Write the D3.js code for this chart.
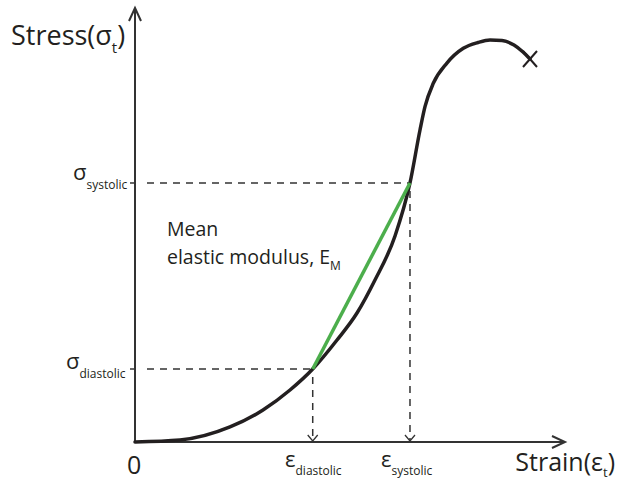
<!DOCTYPE html>
<html>
<head>
<meta charset="utf-8">
<script src="https://cdn.jsdelivr.net/npm/d3@7"></script>
<style>
  body { margin: 0; background: #fff; }
  text { font-family: "Open Sans", sans-serif; fill: #231f20; }
</style>
</head>
<body>
<svg id="chart" width="619" height="482"></svg>
<script>
// stress-strain curve (axis units 0..100)
var strain = [0, 10.47, 22.09, 29.77, 36.05, 41.33, 46.98, 51.63, 55.81, 60.47, 63.95, 66.28, 67.44, 69.37, 72.49, 76.35, 79.77, 82.56, 85.35, 88.14, 90.23, 91.86];
var stress = [0, 0.46, 3.46, 7.37, 11.98, 16.82, 23.50, 29.72, 37.33, 47.47, 59.68, 71.89, 77.26, 82.65, 87.26, 90.71, 92.05, 92.63, 92.51, 91.47, 89.86, 88.25];

// the two marked points (diastolic, systolic)
var markNames = ["diastolic", "systolic"];
var markStrain = [41.33, 63.95];
var markStress = [16.82, 59.68];

var svg = d3.select('#chart');

var x = d3.scaleLinear().domain([0, 100]).range([135, 565]);
var y = d3.scaleLinear().domain([0, 100]).range([442, 8]);

var ink = '#231f20';
var axisCol = '#333';

// axes with open arrow heads
svg.append('line')
    .attr('x1', x(0)).attr('y1', y(0)).attr('x2', x(100)).attr('y2', y(0))
    .attr('stroke', axisCol).attr('stroke-width', 2);
svg.append('line')
    .attr('x1', x(0)).attr('y1', y(0)).attr('x2', x(0)).attr('y2', y(100))
    .attr('stroke', axisCol).attr('stroke-width', 2);

function arrowHead(px, py, dir, len, half, w) {
    var pts;
    if (dir == 'right') pts = [[px - len, py - half], [px, py], [px - len, py + half]];
    if (dir == 'up') pts = [[px - half, py + len], [px, py], [px + half, py + len]];
    if (dir == 'down') pts = [[px - half, py - len], [px, py], [px + half, py - len]];
    svg.append('path')
        .attr('d', d3.line()(pts))
        .attr('fill', 'none').attr('stroke', axisCol).attr('stroke-width', w);
}
arrowHead(x(100), y(0), 'right', 13, 6, 2);
arrowHead(x(0), y(100), 'up', 13, 6, 2);

// dashed guides
markNames.forEach(function(name, i) {
    svg.append('line')
        .attr('x1', x(0) - 5).attr('y1', y(markStress[i]))
        .attr('x2', x(0)).attr('y2', y(markStress[i]))
        .attr('stroke', axisCol).attr('stroke-width', 1.5);
    svg.append('line')
        .attr('x1', x(0) + 12).attr('y1', y(markStress[i]))
        .attr('x2', x(markStrain[i])).attr('y2', y(markStress[i]))
        .attr('stroke', axisCol).attr('stroke-width', 1.5)
        .attr('stroke-dasharray', '7,6');
    svg.append('line')
        .attr('x1', x(markStrain[i])).attr('y1', y(markStress[i]) + 8)
        .attr('x2', x(markStrain[i])).attr('y2', y(0) - 1)
        .attr('stroke', axisCol).attr('stroke-width', 1.5)
        .attr('stroke-dasharray', '7,6');
    arrowHead(x(markStrain[i]), y(0) - 1, 'down', 6, 5, 1.3);
});

// the curve
var curveData = strain.map(function(d, i) { return [d, stress[i]]; });
var line = d3.line()
    .x(function(d) { return x(d[0]); })
    .y(function(d) { return y(d[1]); })
    .curve(d3.curveMonotoneX);

svg.append('path')
    .datum(curveData)
    .attr('d', line)
    .attr('fill', 'none')
    .attr('stroke', ink)
    .attr('stroke-width', 3.5)
    .attr('stroke-linecap', 'round');

// mean elastic modulus chord
svg.append('line')
    .attr('x1', x(markStrain[0])).attr('y1', y(markStress[0]))
    .attr('x2', x(markStrain[1])).attr('y2', y(markStress[1]))
    .attr('stroke', '#4cae4c').attr('stroke-width', 3.5);

// failure mark
var fx = x(strain[strain.length - 1]), fy = y(stress[stress.length - 1]);
svg.append('path')
    .attr('d', 'M' + (fx - 7) + ',' + (fy - 8) + 'L' + (fx + 7) + ',' + (fy + 8) +
               'M' + (fx + 7) + ',' + (fy - 8) + 'L' + (fx - 7) + ',' + (fy + 8))
    .attr('stroke', ink).attr('stroke-width', 2).attr('fill', 'none');

// Stress axis title
var st = svg.append('text').attr('x', 11).attr('y', 45).attr('font-size', 27);
st.append('tspan').text('Stress(σ');
st.append('tspan').text('t').attr('font-size', 15).attr('dy', 8);
st.append('tspan').text(')').attr('dy', -8);

// Strain axis title
var sx = svg.append('text').attr('x', 615).attr('y', 471).attr('font-size', 25)
    .attr('text-anchor', 'end');
sx.append('tspan').text('Strain(ε');
sx.append('tspan').text('t').attr('font-size', 13).attr('dy', 6);
sx.append('tspan').text(')').attr('dy', -6);

// origin
svg.append('text').attr('x', 127).attr('y', 474).attr('font-size', 25).text('0');

// stress marks on y axis
var sigmaX = [66, 73];
markNames.forEach(function(name, i) {
    var t = svg.append('text').attr('x', sigmaX[i]).attr('y', y(markStress[i]) + (i == 0 ? 0 : -3)).attr('font-size', 22);
    t.append('tspan').text('σ');
    t.append('tspan').text(name).attr('font-size', 12).attr('dy', 9);
});

// strain marks under x axis
var epsX = [285, 381];
markNames.forEach(function(name, i) {
    var t = svg.append('text').attr('x', epsX[i]).attr('y', 467).attr('font-size', 22);
    t.append('tspan').text('ε');
    t.append('tspan').text(name).attr('font-size', 12).attr('dy', 8);
});

// modulus annotation
svg.append('text').attr('x', 167).attr('y', 236).attr('font-size', 19.5).text('Mean');
var em = svg.append('text').attr('x', 167).attr('y', 264).attr('font-size', 19.5);
em.append('tspan').text('elastic modulus, E');
em.append('tspan').text('M').attr('font-size', 12).attr('dy', 6);
</script>
</body>
</html>
